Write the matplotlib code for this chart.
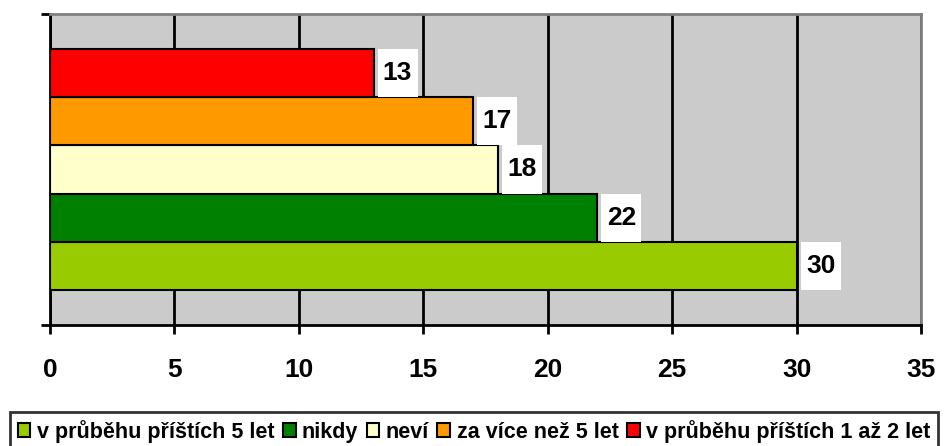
import matplotlib.pyplot as plt
from matplotlib.patches import Patch

plt.rcParams['font.family'] = ['Liberation Sans', 'DejaVu Sans']

# data, bottom to top
labels = ["v průběhu příštích 5 let", "nikdy", "neví", "za více než 5 let",
          "v průběhu příštích 1 až 2 let"]
values = [30, 22, 18, 17, 13]
colors = ["#99CC00", "#008000", "#FFFFCC", "#FF9900", "#FF0000"]
xticks = [0, 5, 10, 15, 20, 25, 30, 35]

fig = plt.figure(figsize=(9.51, 4.46), dpi=100)
ax = fig.add_axes([50/951, 121/446, 871/951, 311/446])
ax.set_facecolor("#CBCBCB")

h = 0.155
offsets = [-2*h, -h, 0, h, 2*h]
box_w = 40 / 871 * 35
gap = 4 / 871 * 35
for off, v, c in zip(offsets, values, colors):
    ax.barh(off, v, height=h, color=c, edgecolor="black", linewidth=1.5, zorder=3)
    # white label box next to the bar end
    ax.barh(off, box_w, left=v + gap, height=h, color="white", zorder=3)
    ax.text(v + gap + box_w / 2, off, str(v), ha="center", va="center",
            fontsize=19, fontweight="bold", zorder=4)

ax.set_xlim(0, 35)
ax.set_ylim(-0.5, 0.5)
ax.set_xticks(xticks)
ax.set_xticklabels([str(t) for t in xticks], fontsize=19, fontweight="bold")
ax.set_yticks([-0.5, 0.5])
ax.set_yticklabels([])
ax.tick_params(axis="x", direction="out", length=6.5, width=2, pad=17)
ax.tick_params(axis="y", direction="out", length=6.5, width=2)
ax.grid(axis="x", color="black", linewidth=2, zorder=1)
ax.set_axisbelow(True)

for s in ["left", "bottom"]:
    ax.spines[s].set_linewidth(2)
    ax.spines[s].set_color("black")
for s in ["top", "right"]:
    ax.spines[s].set_linewidth(2)
    ax.spines[s].set_color("#808080")

handles = [Patch(facecolor=c, edgecolor="black", linewidth=1.5) for c in colors]
leg = fig.legend(handles, labels, loc="upper left", bbox_to_anchor=(10/951, 1 - 412/446),
                 ncol=5, frameon=True, fancybox=False, edgecolor="black",
                 prop=dict(size=15.5, weight="bold"), handlelength=0.6,
                 handleheight=0.6, handletextpad=0.3, columnspacing=0.38,
                 borderpad=0.35, borderaxespad=0)
leg.get_frame().set_linewidth(2)

fig.savefig("out.png", dpi=100)
